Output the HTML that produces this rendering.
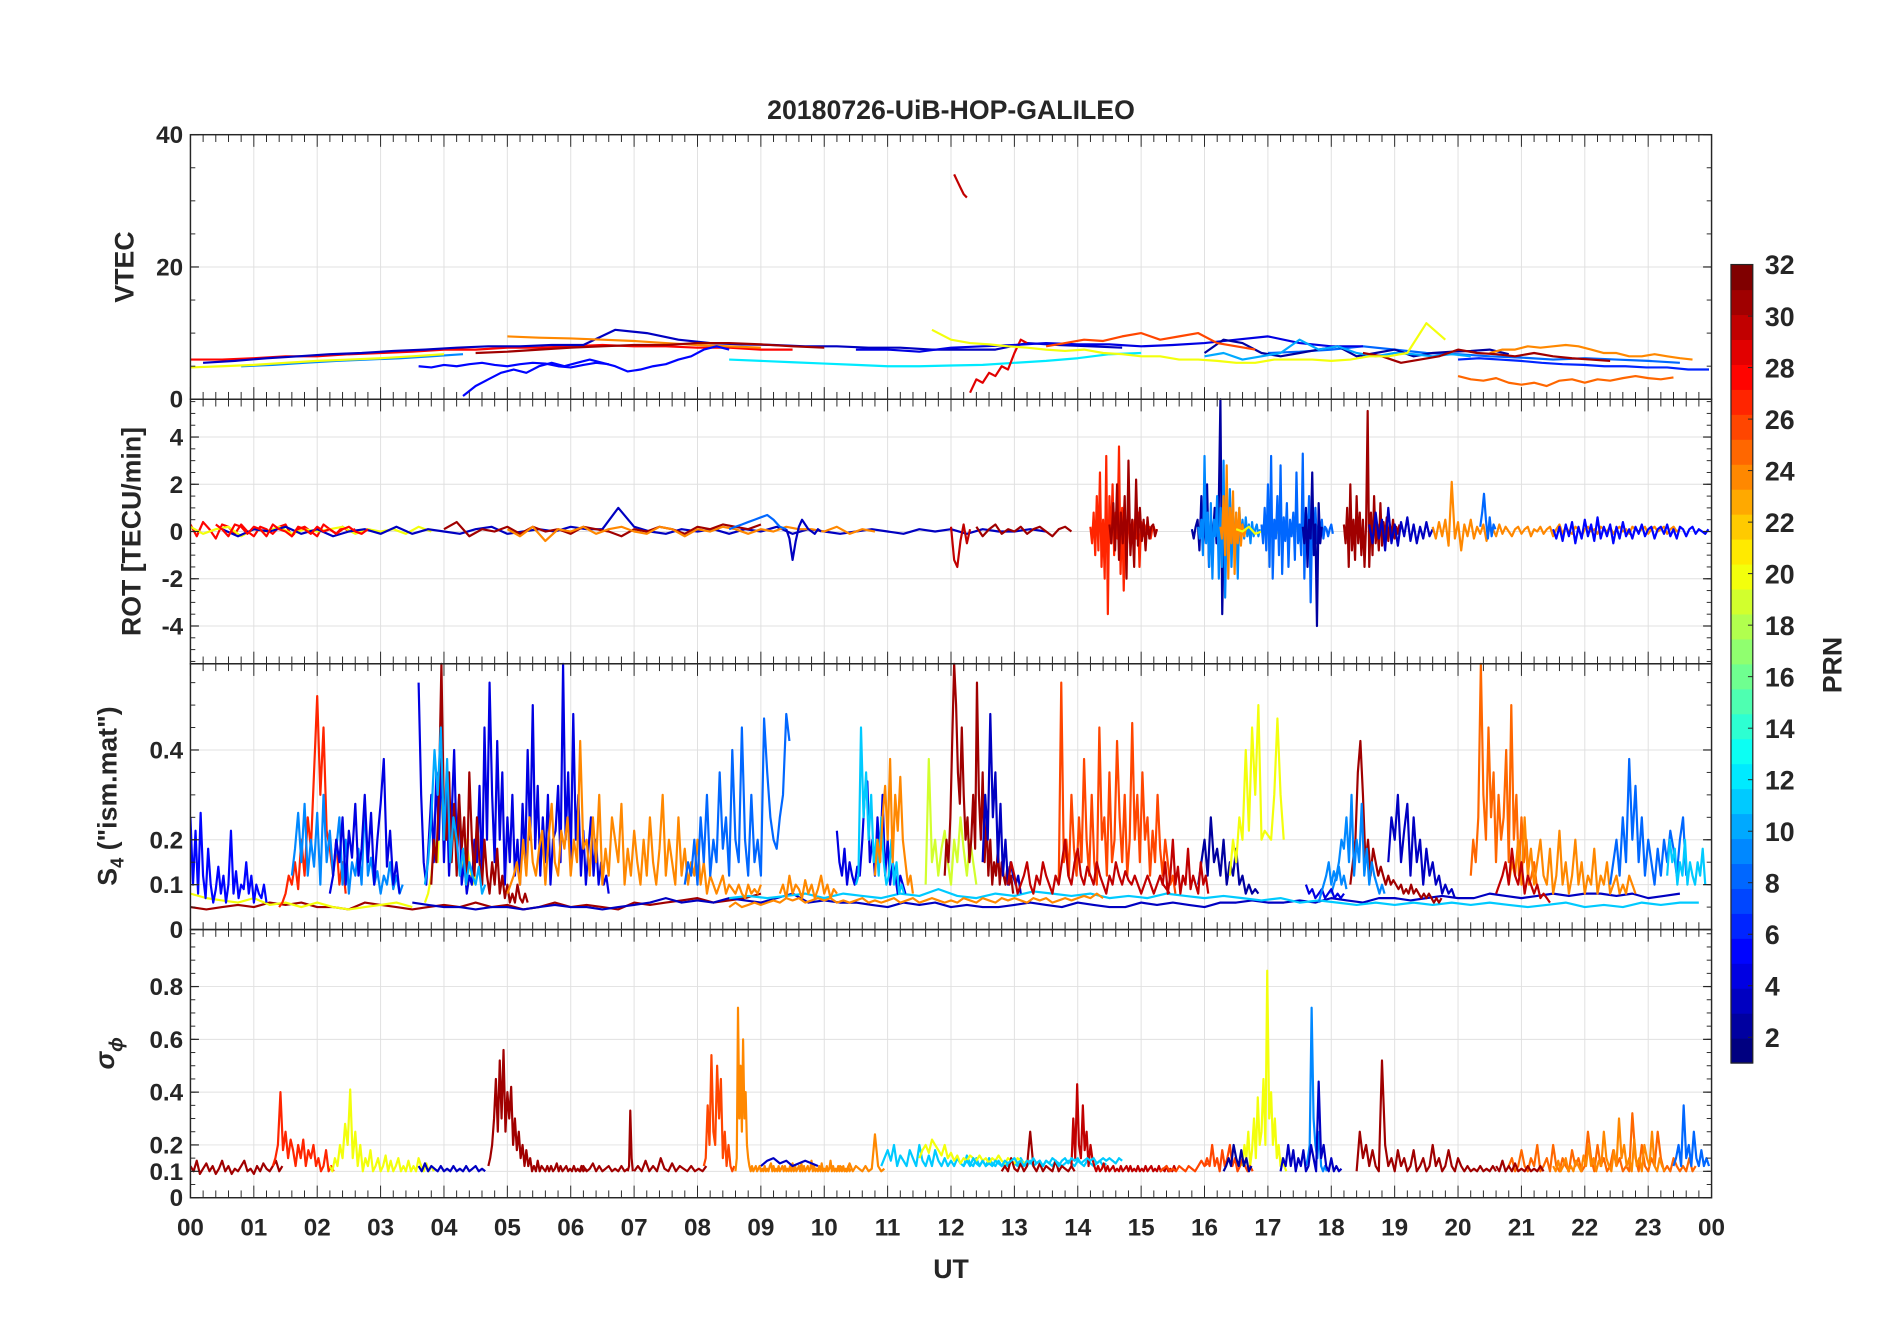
<!DOCTYPE html>
<html><head><meta charset="utf-8"><title>20180726-UiB-HOP-GALILEO</title>
<style>
html,body{margin:0;padding:0;background:#fff;}
svg{display:block;}
text{font-family:"Liberation Sans",sans-serif;font-weight:bold;fill:#262626;}
</style></head>
<body>
<svg id="fig" width="1902" height="1330" viewBox="0 0 1568 1096" preserveAspectRatio="none" xmlns="http://www.w3.org/2000/svg">
<defs><clipPath id="plotclip"><rect x="157" y="111" width="1254" height="876"/></clipPath></defs>
<text x="784" y="98" font-size="22" text-anchor="middle">20180726-UiB-HOP-GALILEO</text>
<g id="grids"></g>
<g id="series" clip-path="url(#plotclip)"></g>
<g id="axes"></g>
<g id="cbar"></g>
<text x="784" y="1053" font-size="22" text-anchor="middle">UT</text>
<text transform="translate(110,220) rotate(-90)" font-size="22" text-anchor="middle">VTEC</text>
<text transform="translate(116,438) rotate(-90)" font-size="22" text-anchor="middle">ROT [TECU/min]</text>
<text transform="translate(96,656) rotate(-90)" font-size="22" text-anchor="middle">S<tspan font-size="15" dy="6">4</tspan><tspan dy="-6"> ("ism.mat")</tspan></text>
<text transform="translate(94,868) rotate(-90)" font-size="22" font-style="italic" font-weight="normal" font-family="Liberation Serif, serif" text-anchor="middle">σ<tspan font-size="16" dy="7">ϕ</tspan></text>
<text transform="translate(1518,548) rotate(-90)" font-size="22" text-anchor="middle">PRN</text>
</svg>
<script>
const NS='http://www.w3.org/2000/svg';
const X0=157,X1=1411;
const panels=[
 {name:'vtec',top:111,bot:329,min:0,max:40,ticks:[0,20,40],labels:['0','20','40'],minor:5},
 {name:'rot',top:329,bot:547,min:-5.6,max:5.6,ticks:[-4,-2,0,2,4],labels:['-4','-2','0','2','4'],minor:0.5},
 {name:'s4',top:547,bot:766,min:0,max:0.592,ticks:[0,0.1,0.2,0.4],labels:['0','0.1','0.2','0.4'],minor:0.05},
 {name:'sigma',top:766,bot:987,min:0,max:1.016,ticks:[0,0.1,0.2,0.4,0.6,0.8],labels:['0','0.1','0.2','0.4','0.6','0.8'],minor:0.05}
];
const hourLabels=['00','01','02','03','04','05','06','07','08','09','10','11','12','13','14','15','16','17','18','19','20','21','22','23','00'];
const cbarTicks=[2,4,6,8,10,12,14,16,18,20,22,24,26,28,30,32];

const vtecPrn=[28,3,9,20,24,31,12,5,5,30,29,25,8,4,2,24,26,10,31,20,6];
const vtecStart=[0,0.2,0.8,0,5,4.5,8.5,3.6,4.3,12.05,12.3,20,17,10.5,16,20.5,13.5,16,18.5,11.7,20];
const vtecStep=[0.5,0.5,0.5,0.5,0.5,0.5,0.5,0.2,0.2,0.05,0.1,0.2,0.5,0.5,0.3,0.2,0.3,0.3,0.3,0.3,0.33];
const vtecValues=[
 [6,6,6.2,6.5,6.5,6.8,7,7.2,7.5,7.5,7.8,7.8,8,8.2,8,8,7.8,7.8,7.5,7.5],
 [5.5,5.8,6.2,6.5,6.8,7,7.3,7.5,7.8,8,8,8.2,8.2,10.5,10,9,8.5,8.3,8.2,8,8,7.8,7.8,7.5,7.5,7.5,8.5,8.2,8,7.8],
 [5,5.2,5.5,5.8,6,6.2,6.5,6.8],
 [4.8,5,5.2,5.5,5.8,6,6.2,6.5,6.8],
 [9.5,9.3,9.2,9,8.8,8.5,8.2,8,7.8],
 [7,7.2,7.5,7.8,8,8.2,8.2,8.5,8.5,8.3,8,7.8],
 [6,5.8,5.6,5.4,5.2,5,5,5.1,5.2,5.5,5.8,6.2,6.8,7],
 [5,4.8,5.2,5,5.3,5.5,5.2,5,5.3,5.5,5.4,5,4.8,5.2,5.5,5.3],
 [0.5,2,3,4,4.5,4,5,5.5,5,5.5,6,5.5,5,4.2,4.5,5,5.3,6,6.5,7.5,8,7.5],
 [34,33,32,31,30.5],
 [1,3,2.5,4,3.5,5,4.5,7,9,8.5],
 [3.5,3,2.8,3.2,2.5,2.2,2.5,2,2.8,3,2.5,3,2.8,3.2,3.5,3.2,3,3.3],
 [7,7.2,7.5,8,7.5,7,6.8,6.5,6.3,6,6.2,6,5.8,5.5],
 [7.5,7.5,7.2,7.8,8,8.2,8.5,8.3,8.3,8,8.2,8.5,9,9.5,8.5,8,8],
 [7,9,8.5,7,6.5,7,7.5,8,6.5,7,7.5,6.5,7,7.2,7.3,7.5,6.8],
 [7,7.5,7.5,8,7.8,8,8.2,8,7.5,7,7,6.5,6.5,6.8,6.5,6.2,6],
 [8,8.5,9,8.8,9.5,10,9,9.5,10,8.5,8,7.5],
 [6.5,7,6,6.5,7,9,7.5,8,7,6.5,7,6.8,6.5,6.8,6.5],
 [7,6.5,5.5,6,6.5,7.5,7,6.8,6.5,7,6.5,6.2,6,5.8],
 [10.5,9,8.5,8.3,8,7.8,7.5,7.3,7.5,7,6.8,6.5,6.5,6,6,5.8,5.5,5.5,6,6,6,5.8,6,6.5,6.5,7,11.5,9],
 [6,6.2,6,5.8,5.5,5.3,5.2,5,5,4.8,4.8,4.5,4.5]
];

const rotPrn=[28,20,3,31,24,8,3,30,31,27,31,2,9,24,20,8,2,31,3,24,8,5,28];
const rotStart=[0,0,0.5,4,5,8.5,9.4,12,12.4,14.2,14.5,15.8,15.9,16.25,16.5,16.9,17.55,18.2,18.6,19.6,20.35,21.5,0.4];
const rotStep=[0.1,0.2,0.25,0.2,0.2,0.1,0.05,0.05,0.1,0.025,0.03,0.03,0.025,0.025,0.1,0.025,0.025,0.025,0.05,0.05,0.03,0.05,0.1];
const rotValues=[
 [0.3,-0.2,0.4,0.1,-0.3,0.3,0.2,-0.1,0.3,0,-0.2,0.2,0.1,-0.1,0.2,0.3,-0.2,0.1,0.2,0,-0.2,0.3,0.1,-0.1,0.2,0,0.1],
 [0.2,-0.1,0.1,0.2,-0.2,0.1,0,0.2,-0.1,0.1,0,0.1,0.2,-0.1,0.1,0,0.1,-0.1,0.2,0],
 [0.1,-0.2,0.1,0,0.2,-0.1,0.1,-0.2,0,0.1,-0.1,0.2,-0.1,0.1,0,-0.1,0.1,0.2,-0.1,0,0.1,0,0.2,0.1,0.1,1,0.2,0,-0.1,0.1,0,0.1,-0.1,0.1,0,0.2,-0.1,0.1,0,-0.1,0,0.1,0,-0.1,0.1,0,0.1,-0.1,0.1,0,0,0.1,0],
 [0.1,0.4,-0.2,0.1,0,0.2,-0.1,0.2,0,0.1,-0.1,0.2,0.1,0,-0.2,0.1,0,0.2,0.1,-0.1,0.2,0.1,0.3,0.2,0.1,0.3],
 [0.1,-0.2,0.2,-0.4,0.1,0,0.2,-0.1,0.1,0.2,0,-0.1,0.2,0.1,-0.2,0.1,0,0.2,0.1,-0.1,0.1,0,0.2,0.1,0.1,0,0.2,-0.1,0.1,0],
 [0.1,0.2,0.3,0.4,0.5,0.6,0.7,0.5,0.2,0.1],
 [0.1,-0.3,-1.2,-0.4,0.2,0.5,0.3,0.1,0,-0.1,0.1,0],
 [0.2,-1.2,-1.5,-0.4,0.3,-0.5,0.1],
 [0.2,-0.2,0.1,0.3,-0.1,0.1,0,0.2,-0.1,0.1,0.2,0,-0.2,0.1,0.2,0],
 [0.2,-0.5,0.8,-1,1.5,-0.8,2.5,-1.5,0.5,-2,3.2,-3.5,1.5,-0.5,2,-1,0.8,-0.3,3.6,-1.8,1,-2.5,0.5,-0.8,1.2,-0.5,0.3,-0.2,0.5,-0.3,0.8,-1.5,0.4,-0.2,0.3,0.1,-0.1,0.2,-0.3,0.1,0.2,-0.1,0.1],
 [0.3,-0.5,1.2,-0.8,2,-1.2,0.8,-0.5,1.5,-2,3,-1,0.5,-1.5,2.2,-0.6,1,-0.4,0.5,-0.8,0.6,-0.3,0.2,0.3,-0.2,0.1],
 [0.1,-0.3,0.2,0.5,-0.8,1.5,-0.5,0.3,2,-1.5,0.5,-0.3,1,-0.5,0.3,5.7,-3.5,0.8,-1,0.5,-0.5,0.3,-0.2,0.1,0.2,-0.1],
 [0.2,-0.3,0.5,-1,3.2,-0.5,0.8,-1.5,1.2,-2,0.5,-0.2,1.5,-2,1,-1.5,3,-2.8,0.5,-1,1.8,-1.5,0.5,-0.5,0.8,-2,1,-0.4,0.5,-0.3,0.6,-0.2,0.3,-0.5,0.4,-0.2,0.1,0.3,-0.2,0.1],
 [0.2,-0.3,1.5,-1,2.8,-2,1,-0.5,1.7,-1.8,0.8,-0.5,1,-0.6,0.3,-0.2,0.1],
 [0.1,0,0.2,-0.1,0,0.1,0,-0.1,0.1,0,0.2,-0.1,0,0.1,0],
 [0.3,-0.5,1,-0.8,2,-1.5,3.2,-2,0.5,-0.3,1.5,-1,2.8,-1.8,0.6,-0.4,1.2,-1.5,0.5,-0.2,0.8,-1.2,2.5,-0.5,0.3,-1,3.3,-2,0.8,-0.4,1.5,-3,0.5,-0.3,1,-0.5,0.3,-0.2,0.5,-0.3,0.2,0.1,-0.2,0.1,0.3,-0.1],
 [0.2,-0.5,1,-1.5,0.5,-0.3,2.5,-1,0.3,-4,1.2,-0.5,0.2],
 [0.3,-0.5,1,-1.5,2,-0.8,0.5,-1.2,1.5,-0.5,0.8,-1,0.5,-1.5,0.3,5.1,-1.5,0.8,-1,1.5,-0.5,0.3,-0.8,1.2,-0.6,0.4,-0.3,0.6,-0.4,0.3,-0.2,0.5,-0.3,0.2,-0.1,0.3],
 [0.3,-0.5,0.8,-0.3,0.5,-0.8,1,-0.5,0.3,-0.6,0.4,-0.2,0.6,-0.4,0.3,-0.5,0.2,-0.3,0.4,-0.2,0.1],
 [0.2,-0.3,0.4,-0.2,0.5,-0.6,2.1,-0.3,0.4,-0.8,0.3,-0.2,0.5,-0.3,0.2,-0.1,0.3,-0.4,0.2,0.1,-0.2,0.3,-0.1,0.2,0,-0.2,0.1,0.2,-0.1,0.1,0.2,-0.2,0.1,0,0.2,-0.1,0.1,0.2,-0.2,0.1,0.3,-0.1,0.2,0,-0.1,0.2,0.1,-0.2,0.1,0.2,0,0.1,-0.1,0.2,0.1,0,0.2,-0.1,0.1,0.2,0,0.1,-0.1,0.2,0.1,0,0.1,0.2,-0.1,0.1,0.2,0,0.1,0.2,-0.1,0.1,0.2,0,0.1],
 [0.2,0.8,1.6,0.5,-0.3,0.6,-0.2,0.3,0.1],
 [0.1,-0.3,0.2,-0.4,0.3,-0.2,0.4,-0.5,0.2,-0.3,0.5,-0.2,0.3,-0.4,0.6,-0.3,0.2,-0.2,0.3,-0.5,0.2,-0.3,0.4,-0.2,0.1,-0.3,0.2,-0.1,0.3,-0.2,0.1,0.2,-0.3,0.1,0.2,-0.1,0.3,-0.2,0.1,-0.3,0.2,0.1,-0.2,0.1,0.2,-0.1,0.1,0,-0.1,0.1],
 [0.3,0.1,-0.2,0.3,0.2,-0.1,0.2,0.1,-0.2,0.3,0.1,0,-0.2,0.2,0.1,-0.1,0.2,0,0.1,-0.1,0.1,0.2,0,-0.1,0.1]
];

const s4Prn=[31,20,3,11,5,27,9,4,20,4,31,10,24,8,4,11,24,19,31,3,26,30,2,20,31,9,3,25,24,8,11,30,24,24,30,4,9];
const s4Start=[0,0,3.5,8.5,0,1.4,1.6,2.2,3.7,3.6,3.8,3.7,5,7.8,10.2,10.5,10.8,11.6,11.9,12.5,13.7,12.9,15.9,16.4,18.3,18,18.9,20.2,20.8,22.4,23.3,20.6,8.5,9.3,15.3,17.6,17.8];
const s4Step=[0.25,0.25,0.25,0.3,0.04,0.05,0.05,0.05,0.05,0.04,0.04,0.05,0.05,0.05,0.04,0.04,0.04,0.05,0.03,0.04,0.04,0.05,0.05,0.05,0.04,0.04,0.05,0.04,0.05,0.05,0.04,0.05,0.1,0.05,0.04,0.05,0.04];
const s4Values=[
 [0.05,0.045,0.05,0.055,0.05,0.06,0.055,0.06,0.05,0.05,0.045,0.06,0.055,0.05,0.045,0.05,0.055,0.05,0.06,0.05,0.055,0.045,0.05,0.06,0.05,0.055,0.05,0.045,0.06,0.055,0.06,0.065,0.07,0.06,0.065,0.07,0.08],
 [0.08,0.07,0.065,0.06,0.07,0.055,0.06,0.05,0.06,0.05,0.045,0.05,0.055,0.06,0.05],
 [0.06,0.055,0.05,0.05,0.045,0.05,0.05,0.045,0.05,0.055,0.05,0.05,0.045,0.05,0.055,0.06,0.07,0.06,0.065,0.06,0.07,0.065,0.06,0.07,0.08,0.06,0.065,0.06,0.06,0.055,0.05,0.06,0.055,0.06,0.05,0.055,0.05,0.05,0.055,0.06,0.055,0.05,0.06,0.055,0.05,0.05,0.06,0.055,0.06,0.055,0.05,0.06,0.06,0.065,0.06,0.06,0.065,0.06,0.07,0.065,0.06,0.07,0.07,0.065,0.07,0.075,0.07,0.07,0.08,0.075,0.07,0.075,0.08,0.075,0.08,0.08,0.075,0.08,0.07,0.075,0.08],
 [0.07,0.075,0.07,0.075,0.08,0.07,0.08,0.075,0.07,0.08,0.075,0.09,0.075,0.07,0.08,0.075,0.085,0.08,0.075,0.08,0.07,0.075,0.07,0.08,0.075,0.07,0.075,0.07,0.065,0.07,0.06,0.065,0.06,0.055,0.06,0.055,0.06,0.055,0.06,0.055,0.06,0.055,0.05,0.055,0.06,0.05,0.055,0.05,0.06,0.055,0.06,0.06],
 [0.25,0.1,0.22,0.08,0.26,0.12,0.07,0.18,0.1,0.06,0.09,0.14,0.08,0.12,0.06,0.1,0.22,0.08,0.13,0.07,0.1,0.09,0.15,0.08,0.12,0.06,0.1,0.08,0.07,0.1,0.06],
 [0.05,0.06,0.08,0.12,0.1,0.15,0.09,0.2,0.12,0.25,0.18,0.35,0.52,0.3,0.45,0.22,0.18,0.12,0.2,0.1,0.15,0.08],
 [0.12,0.18,0.26,0.15,0.28,0.12,0.2,0.14,0.26,0.1,0.3,0.15,0.22,0.12,0.18,0.25,0.1,0.2,0.08,0.15,0.12,0.18,0.1,0.28,0.12,0.16,0.1,0.13,0.08,0.12,0.1,0.15,0.09,0.12,0.08,0.1],
 [0.08,0.12,0.2,0.15,0.25,0.1,0.22,0.16,0.28,0.12,0.18,0.3,0.15,0.26,0.1,0.2,0.28,0.38,0.14,0.22,0.1,0.15,0.08],
 [0.06,0.08,0.12,0.2,0.15,0.32,0.2,0.28,0.15,0.22,0.18,0.25,0.12,0.2,0.15,0.1,0.12],
 [0.55,0.3,0.15,0.1,0.2,0.3,0.15,0.35,0.2,0.38,0.15,0.32,0.12,0.25,0.4,0.18,0.3,0.1,0.15,0.08,0.12,0.1,0.2,0.15,0.32,0.1,0.45,0.2,0.55,0.3,0.15,0.42,0.2,0.35,0.1,0.25,0.15,0.3,0.12,0.2,0.1,0.28,0.15,0.4,0.2,0.5,0.18,0.32,0.12,0.25,0.15,0.3,0.1,0.2,0.22,0.32,0.15,0.6,0.2,0.35,0.15,0.48,0.2,0.3,0.12,0.22,0.1,0.18,0.25,0.12,0.2,0.1,0.15,0.1,0.12,0.08],
 [0.1,0.2,0.15,0.3,0.6,0.25,0.2,0.35,0.15,0.28,0.12,0.3,0.18,0.25,0.1,0.35,0.2,0.12,0.25,0.15,0.1,0.2,0.12,0.08,0.15,0.1,0.18,0.08,0.12,0.07,0.1,0.06,0.08,0.06,0.1,0.07,0.06,0.08,0.06],
 [0.1,0.15,0.25,0.4,0.3,0.45,0.2,0.38,0.15,0.25,0.2,0.12,0.18,0.1,0.15,0.12,0.1,0.14,0.08,0.1],
 [0.08,0.1,0.12,0.15,0.1,0.2,0.12,0.25,0.15,0.12,0.18,0.22,0.1,0.2,0.28,0.15,0.12,0.22,0.18,0.25,0.12,0.2,0.15,0.42,0.18,0.2,0.12,0.25,0.15,0.3,0.1,0.18,0.12,0.25,0.2,0.15,0.28,0.1,0.18,0.12,0.22,0.15,0.1,0.2,0.12,0.25,0.15,0.1,0.18,0.3,0.12,0.2,0.15,0.1,0.25,0.12,0.18,0.1,0.15,0.12,0.2,0.1,0.15,0.08,0.12,0.1,0.08,0.1,0.12,0.08,0.1,0.09,0.08,0.1,0.08,0.07,0.1,0.08,0.09,0.08,0.1],
 [0.1,0.15,0.12,0.2,0.1,0.25,0.15,0.3,0.12,0.2,0.15,0.35,0.18,0.25,0.12,0.4,0.2,0.15,0.45,0.2,0.12,0.3,0.15,0.2,0.12,0.47,0.35,0.25,0.2,0.18,0.25,0.3,0.48,0.42],
 [0.22,0.15,0.12,0.18,0.1,0.15,0.12,0.1,0.14,0.12,0.2,0.3,0.33,0.15,0.2,0.12,0.25,0.15,0.3,0.12,0.2,0.1,0.15,0.12,0.08,0.12,0.1,0.08],
 [0.1,0.12,0.45,0.25,0.35,0.2,0.3,0.15,0.2,0.12,0.25,0.15,0.1,0.12,0.2,0.1,0.15,0.08,0.1,0.08],
 [0.12,0.2,0.15,0.25,0.32,0.2,0.38,0.15,0.3,0.22,0.34,0.2,0.15,0.1,0.12,0.08],
 [0.1,0.38,0.15,0.2,0.12,0.18,0.22,0.15,0.1,0.2,0.15,0.25,0.18,0.12,0.2,0.15,0.1],
 [0.12,0.2,0.15,0.25,0.42,0.6,0.5,0.35,0.28,0.45,0.3,0.2,0.25,0.15,0.2,0.3,0.18,0.55,0.3,0.2,0.35,0.15,0.25,0.12,0.2,0.1,0.15,0.12,0.18,0.1,0.15,0.12,0.1,0.14,0.1,0.12,0.08],
 [0.15,0.3,0.2,0.48,0.25,0.35,0.15,0.28,0.12,0.2,0.1,0.15,0.12,0.1,0.12,0.08],
 [0.1,0.55,0.15,0.2,0.12,0.3,0.18,0.12,0.25,0.15,0.38,0.2,0.12,0.3,0.15,0.1,0.45,0.2,0.25,0.12,0.35,0.15,0.2,0.42,0.25,0.15,0.3,0.12,0.2,0.46,0.2,0.3,0.15,0.35,0.2,0.25,0.12,0.22,0.15,0.3,0.18,0.12,0.2,0.15,0.1,0.12,0.08],
 [0.1,0.15,0.12,0.08,0.1,0.12,0.15,0.1,0.08,0.12,0.1,0.15,0.12,0.1,0.08,0.12,0.1,0.15,0.2,0.12,0.1,0.15,0.18,0.12,0.1,0.14,0.12,0.1,0.15,0.12,0.1,0.08,0.12,0.1,0.15,0.12,0.1,0.13,0.11,0.1,0.12,0.1,0.08,0.1,0.12,0.1,0.08,0.1,0.12,0.1,0.09,0.08],
 [0.1,0.15,0.2,0.12,0.25,0.15,0.18,0.12,0.2,0.1,0.15,0.12,0.18,0.1,0.12,0.08,0.1,0.08,0.09,0.08],
 [0.12,0.2,0.15,0.25,0.2,0.4,0.22,0.45,0.3,0.5,0.2,0.22,0.21,0.2,0.3,0.47,0.3,0.2],
 [0.1,0.15,0.2,0.35,0.42,0.3,0.15,0.2,0.12,0.18,0.15,0.12,0.14,0.12,0.1,0.12,0.1,0.11,0.1,0.09,0.1,0.08,0.09,0.08,0.1,0.08,0.09,0.08,0.07,0.08,0.07,0.08,0.07,0.06,0.07,0.06,0.07],
 [0.08,0.1,0.12,0.15,0.2,0.18,0.25,0.15,0.3,0.12,0.2,0.15,0.28,0.12,0.18,0.1,0.15,0.12,0.1,0.08,0.1,0.08],
 [0.15,0.25,0.2,0.3,0.15,0.22,0.28,0.12,0.25,0.15,0.2,0.1,0.18,0.12,0.15,0.1,0.12,0.08,0.1,0.08,0.09,0.07],
 [0.12,0.2,0.15,0.25,0.6,0.3,0.2,0.45,0.25,0.35,0.15,0.3,0.2,0.25,0.4,0.15,0.5,0.2,0.3,0.12,0.25,0.15,0.2,0.1,0.12,0.15,0.1],
 [0.1,0.15,0.12,0.2,0.1,0.25,0.12,0.18,0.1,0.15,0.2,0.12,0.1,0.18,0.08,0.12,0.22,0.1,0.15,0.08,0.12,0.2,0.1,0.15,0.08,0.12,0.1,0.18,0.08,0.12,0.1,0.15,0.08,0.1,0.12,0.08,0.1,0.08,0.12,0.1,0.08],
 [0.1,0.15,0.2,0.12,0.25,0.15,0.38,0.2,0.32,0.15,0.25,0.12,0.2,0.15,0.1,0.18,0.12,0.2,0.15,0.22,0.18,0.12,0.2,0.25,0.12],
 [0.12,0.2,0.15,0.18,0.1,0.15,0.12,0.2,0.1,0.15,0.12,0.1,0.15,0.12,0.18,0.1],
 [0.08,0.1,0.12,0.15,0.1,0.18,0.12,0.1,0.15,0.08,0.12,0.1,0.08,0.1,0.07,0.08,0.07,0.06],
 [0.05,0.06,0.05,0.055,0.06,0.055,0.06,0.065,0.06,0.07,0.065,0.07,0.06,0.065,0.07,0.065,0.07,0.06,0.065,0.06,0.065,0.07,0.06,0.065,0.06,0.065,0.07,0.06,0.065,0.07,0.06,0.065,0.07,0.065,0.06,0.065,0.06,0.07,0.065,0.06,0.07,0.065,0.06,0.07,0.065,0.07,0.065,0.06,0.07,0.065,0.07,0.06,0.065,0.07,0.065,0.07,0.075,0.07,0.08,0.07],
 [0.08,0.1,0.07,0.12,0.08,0.1,0.09,0.07,0.11,0.08,0.1,0.07,0.09,0.12,0.08,0.1,0.07,0.09,0.08],
 [0.12,0.1,0.15,0.08,0.12,0.2,0.1,0.14,0.08,0.12,0.1,0.18,0.09,0.12,0.1,0.08,0.15,0.1,0.12,0.08],
 [0.1,0.08,0.09,0.07,0.08,0.09,0.07,0.08,0.09,0.07,0.08,0.07,0.08],
 [0.06,0.08,0.1,0.12,0.15,0.1,0.13,0.11,0.14,0.1,0.12,0.09]
];

const sigPrn=[31,27,20,3,31,31,31,26,24,11,20,31,30,11,20,26,2,9,3,31,25,31,24,8,3,31,24,26];
const sigStart=[0,1.3,2.2,3.6,4.7,6.9,7,8.1,8.6,10.9,11.5,12.8,13.9,12.2,16.6,16,16.3,17.6,17.2,18.4,20.8,20.6,21.5,23.4,9,6.1,10.2,15.3];
const sigStep=[0.05,0.04,0.04,0.05,0.03,0.02,0.06,0.03,0.02,0.05,0.05,0.05,0.03,0.05,0.03,0.04,0.04,0.03,0.04,0.05,0.05,0.05,0.04,0.04,0.1,0.05,0.05,0.05];
const sigValues=[
 [0.12,0.1,0.14,0.09,0.11,0.13,0.1,0.12,0.09,0.11,0.14,0.1,0.12,0.09,0.11,0.1,0.12,0.14,0.1,0.11,0.09,0.12,0.1,0.13,0.11,0.1,0.12,0.14,0.1,0.12],
 [0.12,0.15,0.2,0.4,0.18,0.25,0.15,0.22,0.18,0.12,0.2,0.15,0.22,0.12,0.18,0.15,0.2,0.12,0.15,0.1,0.12,0.18,0.1,0.12,0.1],
 [0.12,0.1,0.15,0.12,0.2,0.15,0.28,0.2,0.41,0.15,0.25,0.12,0.2,0.1,0.15,0.12,0.18,0.1,0.12,0.15,0.1,0.12,0.16,0.1,0.14,0.1,0.12,0.15,0.1,0.12,0.1,0.14,0.1,0.12,0.1,0.15,0.12,0.1,0.13,0.1,0.12,0.1],
 [0.12,0.1,0.13,0.1,0.12,0.11,0.1,0.12,0.1,0.11,0.1,0.12,0.1,0.11,0.1,0.12,0.1,0.11,0.12,0.1,0.11,0.1],
 [0.12,0.15,0.2,0.3,0.45,0.25,0.52,0.3,0.56,0.25,0.4,0.3,0.42,0.2,0.3,0.18,0.25,0.15,0.2,0.12,0.18,0.12,0.15,0.1,0.12,0.1,0.14,0.1,0.12,0.11,0.1,0.12,0.1,0.12,0.1,0.11,0.13,0.1,0.12,0.1,0.11,0.12,0.1,0.11,0.1,0.12,0.1,0.11,0.1,0.12,0.1,0.11,0.1],
 [0.1,0.12,0.33,0.15,0.1],
 [0.1,0.12,0.1,0.14,0.1,0.12,0.1,0.15,0.11,0.1,0.13,0.1,0.12,0.11,0.1,0.12,0.1,0.11,0.1,0.12],
 [0.12,0.15,0.35,0.2,0.54,0.25,0.2,0.5,0.3,0.45,0.15,0.25,0.12,0.2,0.12,0.1,0.12],
 [0.1,0.15,0.72,0.3,0.5,0.25,0.6,0.3,0.4,0.2,0.15,0.12,0.1,0.12,0.1,0.11,0.12,0.1,0.11,0.12,0.1,0.11,0.1,0.12,0.1,0.11,0.1,0.12,0.13,0.1,0.12,0.1,0.11,0.1,0.12,0.1,0.11,0.12,0.1,0.12,0.1,0.11,0.1,0.12,0.1,0.13,0.1,0.12,0.1,0.11,0.12,0.1,0.13,0.1,0.12,0.1,0.11,0.12,0.1,0.11,0.14,0.1,0.12,0.1,0.11,0.1,0.12,0.1,0.13,0.1,0.11,0.1,0.12,0.1,0.11,0.14,0.1,0.12,0.1,0.11,0.1,0.12,0.1,0.11,0.1,0.12,0.1,0.11,0.1,0.12,0.1,0.11],
 [0.12,0.15,0.18,0.14,0.2,0.12,0.16,0.14,0.12,0.18,0.15,0.12,0.2,0.14,0.12,0.16,0.12,0.18,0.14,0.12,0.15,0.12,0.14,0.12,0.15,0.13,0.12,0.16,0.13,0.12,0.15,0.12,0.14,0.12,0.15,0.13,0.12,0.14,0.12,0.13,0.12,0.14,0.13,0.12,0.15,0.13,0.12,0.14,0.12,0.13,0.14,0.12,0.14,0.13,0.12,0.14,0.13,0.12,0.13,0.14,0.13,0.12,0.14,0.13,0.12,0.14,0.13,0.12,0.13,0.14,0.12,0.13],
 [0.15,0.18,0.2,0.17,0.22,0.2,0.18,0.16,0.2,0.15,0.17,0.14,0.16,0.13,0.15,0.14,0.16,0.15,0.14,0.16,0.14,0.15,0.13,0.15,0.14,0.16,0.14,0.13,0.15,0.14,0.13,0.15,0.14,0.13,0.14,0.13],
 [0.1,0.12,0.1,0.15,0.11,0.1,0.13,0.1,0.12,0.25,0.12,0.1,0.13,0.1,0.12,0.11,0.1,0.14,0.1,0.12,0.11,0.1,0.12,0.1],
 [0.12,0.3,0.15,0.43,0.2,0.15,0.35,0.18,0.25,0.12,0.2,0.15,0.12,0.1,0.12,0.1,0.11,0.13,0.1,0.12,0.1,0.11,0.12,0.1,0.11,0.1,0.12,0.1,0.11,0.12,0.1,0.12,0.1,0.11,0.1,0.12,0.1,0.11,0.1,0.12,0.1,0.11,0.12,0.1,0.11,0.1,0.12,0.1,0.11,0.1,0.12,0.1,0.11,0.1,0.12,0.1],
 [0.12,0.14,0.12,0.15,0.13,0.12,0.14,0.12,0.13,0.12,0.14,0.13,0.12,0.14,0.13,0.14,0.15,0.13,0.14,0.12,0.14,0.13,0.15,0.13,0.14,0.12,0.14,0.13,0.15,0.14,0.12,0.14,0.15,0.13,0.15,0.14,0.15,0.13,0.14,0.15,0.14,0.15,0.13,0.14,0.15,0.14,0.15,0.14,0.13,0.15,0.14],
 [0.12,0.2,0.15,0.25,0.12,0.18,0.3,0.15,0.38,0.2,0.25,0.45,0.2,0.86,0.3,0.4,0.2,0.3,0.15,0.2,0.12,0.15,0.12,0.1],
 [0.12,0.15,0.12,0.2,0.12,0.15,0.1,0.18,0.12,0.15,0.2,0.12,0.15,0.1,0.12,0.15,0.12,0.1,0.12,0.1],
 [0.1,0.12,0.15,0.12,0.2,0.15,0.12,0.18,0.12,0.15,0.1,0.12],
 [0.12,0.15,0.2,0.72,0.3,0.2,0.15,0.25,0.12,0.1,0.12,0.1],
 [0.1,0.15,0.12,0.2,0.12,0.18,0.1,0.15,0.12,0.18,0.1,0.12,0.2,0.15,0.1,0.44,0.15,0.2,0.12,0.1,0.15,0.1,0.12,0.1,0.11],
 [0.1,0.25,0.15,0.2,0.12,0.18,0.12,0.1,0.52,0.2,0.12,0.15,0.1,0.18,0.12,0.15,0.1,0.12,0.18,0.1,0.12,0.15,0.1,0.12,0.2,0.12,0.15,0.1,0.12,0.18,0.12,0.1,0.15,0.12,0.1,0.12,0.1,0.11,0.1,0.12,0.1,0.11,0.1,0.12,0.1],
 [0.12,0.15,0.1,0.12,0.18,0.12,0.1,0.15,0.12,0.2,0.1,0.12,0.15,0.1,0.2,0.12,0.1,0.15,0.12,0.1,0.18,0.12,0.15,0.1,0.12,0.25,0.15,0.1,0.2,0.12,0.15,0.1,0.12,0.18,0.12,0.15,0.1,0.12,0.1,0.32,0.15,0.1,0.2,0.12,0.1,0.15,0.12,0.25,0.15,0.1,0.12,0.1,0.15,0.12,0.1,0.12,0.1,0.15,0.1,0.12],
 [0.12,0.1,0.14,0.1,0.12,0.1,0.13,0.1,0.11,0.1,0.12,0.1,0.11,0.1,0.12,0.1],
 [0.12,0.1,0.14,0.1,0.12,0.15,0.1,0.12,0.1,0.14,0.12,0.1,0.16,0.12,0.2,0.12,0.15,0.1,0.14,0.12,0.25,0.15,0.12,0.1,0.18,0.12,0.3,0.15,0.2,0.12,0.15,0.1,0.22,0.12,0.15,0.1,0.2,0.15,0.12,0.25,0.12,0.1,0.15,0.12,0.1],
 [0.12,0.15,0.2,0.12,0.35,0.15,0.2,0.12,0.25,0.15,0.12,0.18,0.12,0.15,0.12],
 [0.12,0.14,0.15,0.13,0.14,0.12,0.13,0.14,0.13,0.12],
 [0.11,0.1,0.12,0.1,0.11,0.13,0.1,0.12,0.1,0.11,0.12,0.1,0.11,0.1,0.12,0.1,0.11],
 [0.1,0.12,0.11,0.1,0.13,0.1,0.12,0.11,0.1,0.12,0.1,0.11,0.24,0.12,0.1,0.11],
 [0.1,0.11,0.12,0.1,0.11,0.1,0.12,0.11,0.1,0.12,0.11,0.1,0.12,0.14,0.12,0.13]
];

function jet(prn){
  const x=(prn-1)/31;
  const c=v=>Math.round(255*Math.max(0,Math.min(1,v)));
  return 'rgb('+c(1.5-Math.abs(4*x-3))+','+c(1.5-Math.abs(4*x-2))+','+c(1.5-Math.abs(4*x-1))+')';
}
function xScale(h){return X0+(X1-X0)*h/24;}
function yScale(p,v){const c=Math.max(p.min,Math.min(p.max,v));return p.bot-(p.bot-p.top)*(c-p.min)/(p.max-p.min);}
function mk(tag,attrs,parent){const e=document.createElementNS(NS,tag);for(const k in attrs)e.setAttribute(k,attrs[k]);parent.appendChild(e);return e;}

const gGrid=document.getElementById('grids'),gSer=document.getElementById('series'),gAx=document.getElementById('axes'),gCb=document.getElementById('cbar');

panels.forEach(p=>{
  for(let h=0;h<=24;h++){
    const l=mk('line',{x1:xScale(h),x2:xScale(h),y1:p.top,y2:p.bot,stroke:'#e0e0e0','stroke-width':0.8},gGrid);
    
    
  }
  p.ticks.forEach((t,i)=>{
    const l=mk('line',{x1:X0,x2:X1,y1:yScale(p,t),y2:yScale(p,t),stroke:'#e0e0e0','stroke-width':0.8},gGrid);
    
    
    const tk=mk('line',{x1:X0,x2:X0+7,y1:yScale(p,t),y2:yScale(p,t),stroke:'#262626','stroke-width':1},gAx);
    
    
    const tk2=mk('line',{x1:X1-7,x2:X1,y1:yScale(p,t),y2:yScale(p,t),stroke:'#262626','stroke-width':1},gAx);
    
    
    const tx=mk('text',{x:X0-6,y:yScale(p,t)+7,'font-size':20,'text-anchor':'end'},gAx);
    tx.textContent=p.labels[i];
    
    
  });
  for(let v=Math.ceil(p.min/p.minor)*p.minor;v<=p.max;v+=p.minor){
    const y=yScale(p,v);
    const a=mk('line',{x1:X0,x2:X0+4,y1:y,y2:y,stroke:'#262626','stroke-width':0.8},gAx);
    
    
    const b=mk('line',{x1:X1-4,x2:X1,y1:y,y2:y,stroke:'#262626','stroke-width':0.8},gAx);
    
    
  }
  for(let k=0;k<=120;k++){
    const x=xScale(k*0.2),len=(k%5===0)?10:6;
    const a=mk('line',{x1:x,x2:x,y1:p.top,y2:p.top+len,stroke:'#262626','stroke-width':0.8},gAx);
    
    
    const b=mk('line',{x1:x,x2:x,y1:p.bot-len,y2:p.bot,stroke:'#262626','stroke-width':0.8},gAx);
    
    
  }
  const r=mk('rect',{x:X0,y:p.top,width:X1-X0,height:p.bot-p.top,fill:'none',stroke:'#262626','stroke-width':1.2},gAx);
  
  
});
hourLabels.forEach((lab,i)=>{
  const t=mk('text',{x:xScale(i),y:1018,'font-size':20,'text-anchor':'middle'},gAx);
  t.textContent=lab;
  
  
});

function drawSet(pi,prns,starts,steps,vals,name){
  const p=panels[pi];
  prns.forEach((prn,i)=>{
    const pts=vals[i].map((v,j)=>xScale(starts[i]+steps[i]*j).toFixed(1)+','+yScale(p,v).toFixed(1)).join(' ');
    const pl=mk('polyline',{points:pts,fill:'none',stroke:jet(prn),'stroke-width':1.8,'stroke-linejoin':'round'},gSer);
    
    
  });
}
drawSet(0,vtecPrn,vtecStart,vtecStep,vtecValues,'vtec-line');
drawSet(1,rotPrn,rotStart,rotStep,rotValues,'rot-line');
drawSet(2,s4Prn,s4Start,s4Step,s4Values,'s4-line');
drawSet(3,sigPrn,sigStart,sigStep,sigValues,'sigma-line');

const CB={x:1427,w:18,top:218,bot:876};
const cy=v=>CB.bot-(CB.bot-CB.top)*(v-1)/31;
for(let k=1;k<=32;k++){
  const y0=CB.bot-(CB.bot-CB.top)*(k)/32,y1=CB.bot-(CB.bot-CB.top)*(k-1)/32;
  const r=mk('rect',{x:CB.x,y:y0,width:CB.w,height:y1-y0+0.5,fill:jet(k)},gCb);
  
  
}
const cbo=mk('rect',{x:CB.x,y:CB.top,width:CB.w,height:CB.bot-CB.top,fill:'none',stroke:'#262626','stroke-width':1},gCb);


cbarTicks.forEach(v=>{
  const l=mk('line',{x1:CB.x+CB.w-4,x2:CB.x+CB.w,y1:cy(v),y2:cy(v),stroke:'#262626','stroke-width':0.8},gCb);
  
  
  const t=mk('text',{x:CB.x+CB.w+10,y:cy(v)+8,'font-size':22},gCb);
  t.textContent=v;
  
  
});
</script>
</body></html>
